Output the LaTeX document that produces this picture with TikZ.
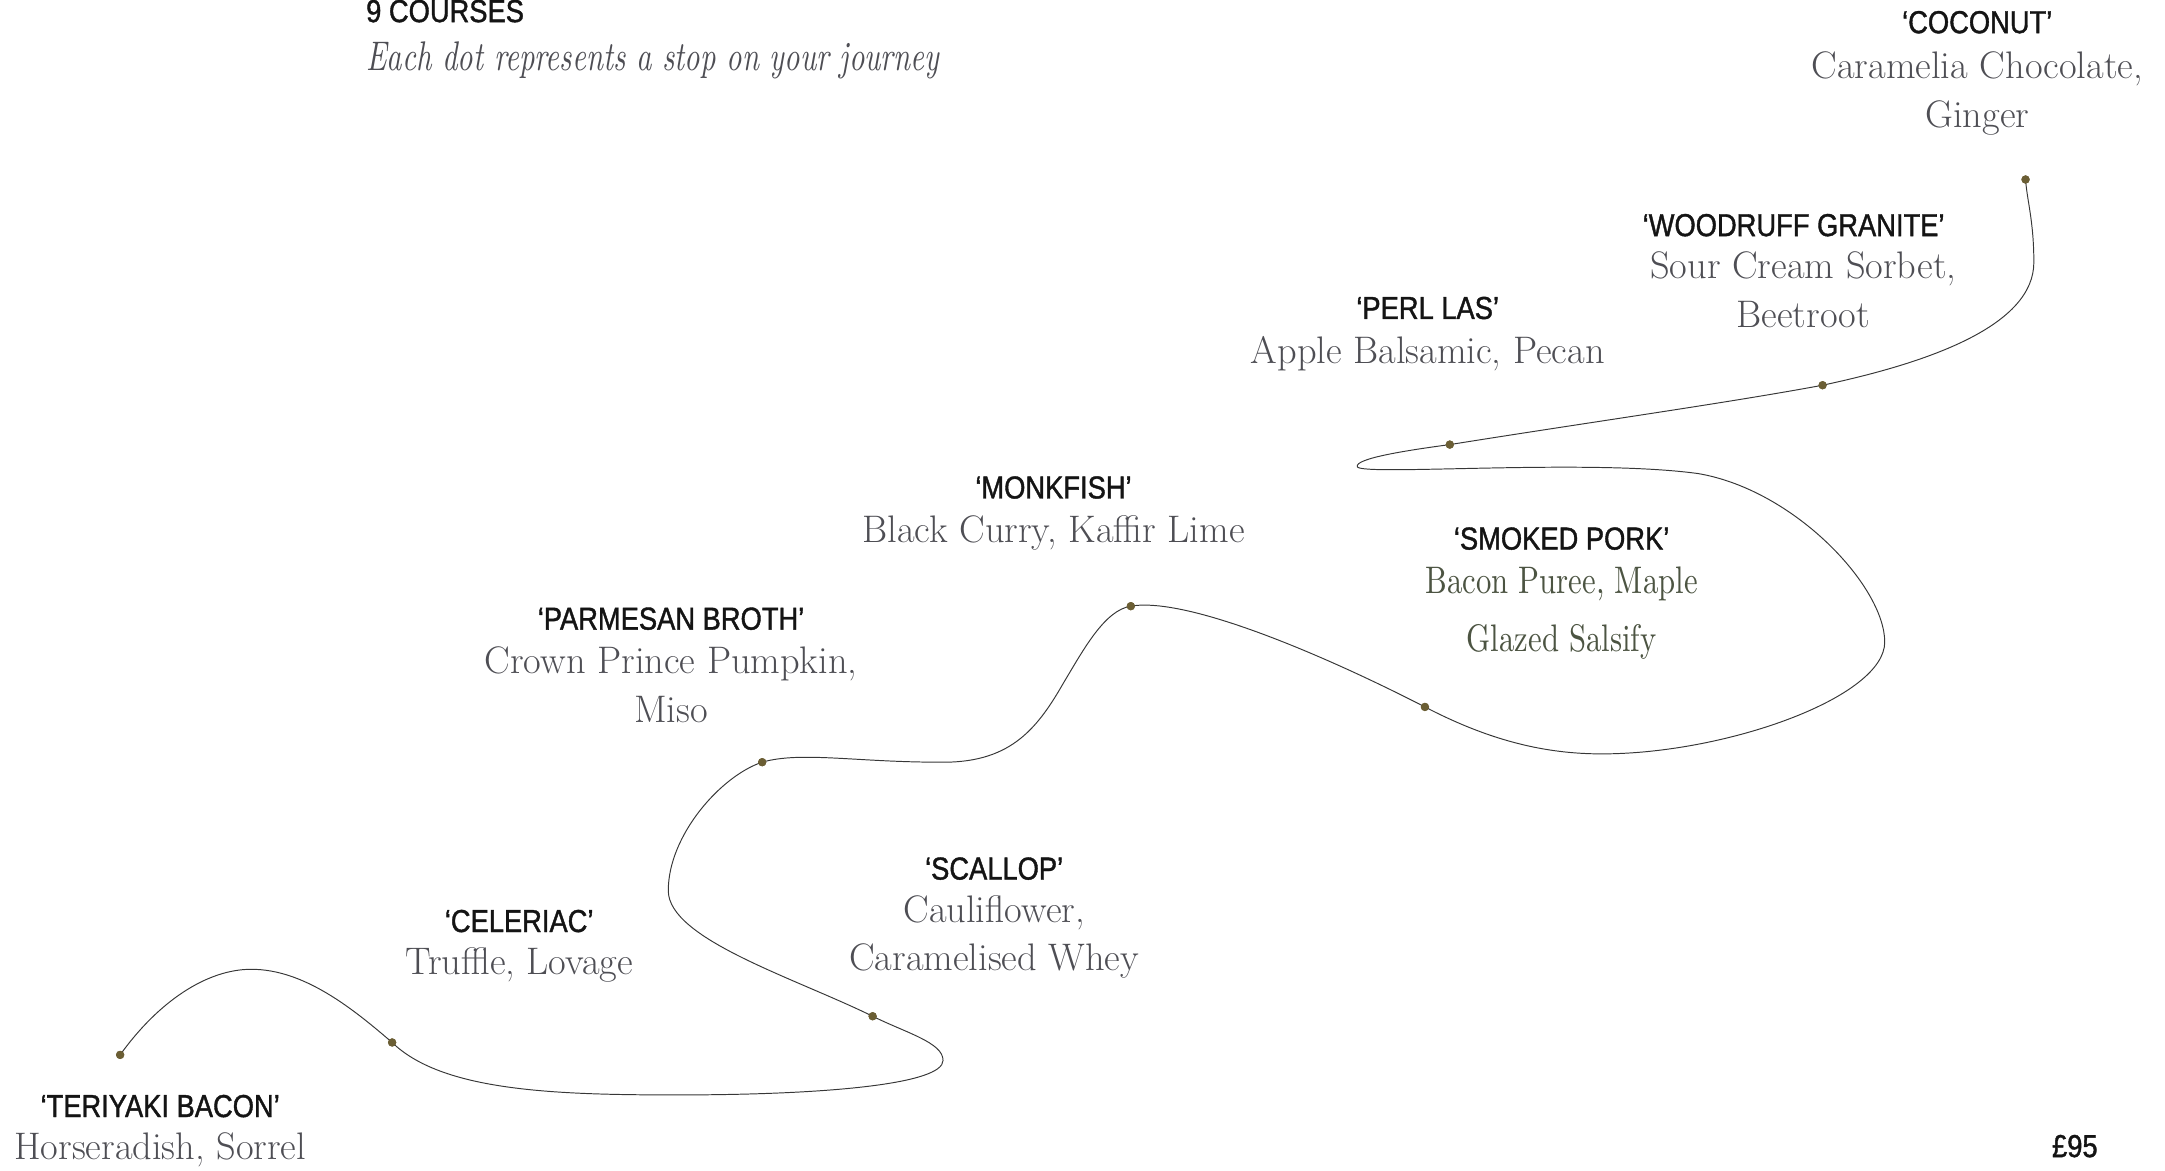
\documentclass[tikz,border=0pt]{standalone}
\usepackage{fontspec}
\newfontfamily\labfont[FakeStretch=0.86,FakeBold=1.2]{Liberation Sans}
\newfontfamily\condfont[FakeStretch=0.80]{lmroman10-regular.otf}
\newfontfamily\subfont[FakeStretch=0.73]{lmroman10-italic.otf}
\definecolor{desc}{RGB}{78,78,84}
\definecolor{porkc}{RGB}{76,84,66}
\definecolor{dotc}{RGB}{107,94,52}
\definecolor{linec}{RGB}{55,55,55}
\tikzset{
  lab/.style={anchor=base, inner sep=0pt, font=\labfont\fontsize{23}{23}\selectfont, text=black!92},
  dsc/.style={anchor=base, inner sep=0pt, font=\fontsize{27.8}{27.8}\selectfont, text=desc},
  porkdsc/.style={anchor=base, inner sep=0pt, font=\condfont\fontsize{27.8}{27.8}\selectfont, text=porkc},
  stop/.style={circle, fill=dotc, inner sep=0pt, minimum size=6pt},
  route/.style={draw=linec, line width=0.7pt}
}
\begin{document}
\begin{tikzpicture}[x=1pt, y=-1pt]
\useasboundingbox (0,0) rectangle (1568,847.4);

% header
\node[lab, anchor=base west] (hdr) at (265,16) {9 COURSES};
\node[dsc, anchor=base west, font=\subfont\fontsize{30}{30}\selectfont] (sub) at (265,51) {Each dot represents a stop on your journey};

% stops
\node[stop] (t) at (87,764) {};
\node[stop] (c) at (284,755) {};
\node[stop] (s) at (632,736) {};
\node[stop] (pb) at (552,552) {};
\node[stop] (m) at (819,439) {};
\node[stop] (sp) at (1032,512) {};
\node[stop] (pl) at (1050,322) {};
\node[stop] (w) at (1320,279) {};
\node[stop] (co) at (1467,130) {};

% route helper points
\coordinate (p1) at (182,702);
\coordinate (p2) at (490,793);
\coordinate (p3) at (683,768);
\coordinate (p4) at (484,645);
\coordinate (p5) at (680,552);
\coordinate (p6) at (770,495);
\coordinate (p7) at (1160,546);
\coordinate (p8) at (1365,465);
\coordinate (p9) at (1230,343);
\coordinate (p10) at (983,338);
\coordinate (p11) at (1473,190);

\draw[route] (t.center) .. controls (115,725) and (150,702) .. (p1)
 .. controls (220,702) and (255,730) .. (c.center)
 .. controls (320,790) and (400,793) .. (p2)
 .. controls (600,793) and (683,785) .. (p3)
 .. controls (683,755) and (656,748) .. (s.center)
 .. controls (575,708) and (484,680) .. (p4)
 .. controls (484,605) and (522,562) .. (pb.center)
 .. controls (580,544) and (620,552) .. (p5)
 .. controls (730,553) and (750,530) .. (p6)
 .. controls (785,470) and (800,442) .. (m.center)
 .. controls (860,432) and (960,475) .. (sp.center)
 .. controls (1080,537) and (1120,546) .. (p7)
 .. controls (1250,546) and (1365,505) .. (p8)
 .. controls (1365,425) and (1300,355) .. (p9)
 .. controls (1150,332) and (985,345) .. (p10)
 .. controls (981,332) and (1020,326) .. (pl.center)
 .. controls (1150,306) and (1250,292) .. (w.center)
 .. controls (1400,262) and (1473,235) .. (p11)
 .. controls (1473,160) and (1468,145) .. (co.center);
% redraw dots on top
\foreach \n in {t,c,s,pb,m,sp,pl,w,co} \fill[dotc] (\n.center) circle (3pt);

% labels
\node[lab] (coL) at (1432,24) {‘COCONUT’};
\node[dsc] (coD1) at (1432,57) {Caramelia Chocolate,};
\node[dsc] (coD2) at (1432,92) {Ginger};

\node[lab] (wL) at (1299,171) {‘WOODRUFF GRANITE’};
\node[dsc] (wD1) at (1306,202) {Sour Cream Sorbet,};
\node[dsc] (wD2) at (1306,237) {Beetroot};

\node[lab] (plL) at (1034,231) {‘PERL LAS’};
\node[dsc] (plD1) at (1034,263) {Apple Balsamic, Pecan};

\node[lab] (mL) at (763,361) {‘MONKFISH’};
\node[dsc] (mD1) at (763,393) {Black Curry, Kaffir Lime};

\node[lab] (spL) at (1131,398) {‘SMOKED PORK’};
\node[porkdsc] (spD1) at (1131,430) {Bacon Puree, Maple};
\node[porkdsc] (spD2) at (1131,472) {Glazed Salsify};

\node[lab] (pbL) at (486,456) {‘PARMESAN BROTH’};
\node[dsc] (pbD1) at (486,488) {Crown Prince Pumpkin,};
\node[dsc] (pbD2) at (486,523) {Miso};

\node[lab] (sL) at (720,637) {‘SCALLOP’};
\node[dsc] (sD1) at (720,668) {Cauliflower,};
\node[dsc] (sD2) at (720,703) {Caramelised Whey};

\node[lab] (cL) at (376,675) {‘CELERIAC’};
\node[dsc] (cD1) at (376,706) {Truffle, Lovage};

\node[lab] (tL) at (116,809) {‘TERIYAKI BACON’};
\node[dsc] (tD1) at (116,840) {Horseradish, Sorrel};

\node[lab, anchor=base west] (price) at (1486,838) {£95};
\end{tikzpicture}
\end{document}
